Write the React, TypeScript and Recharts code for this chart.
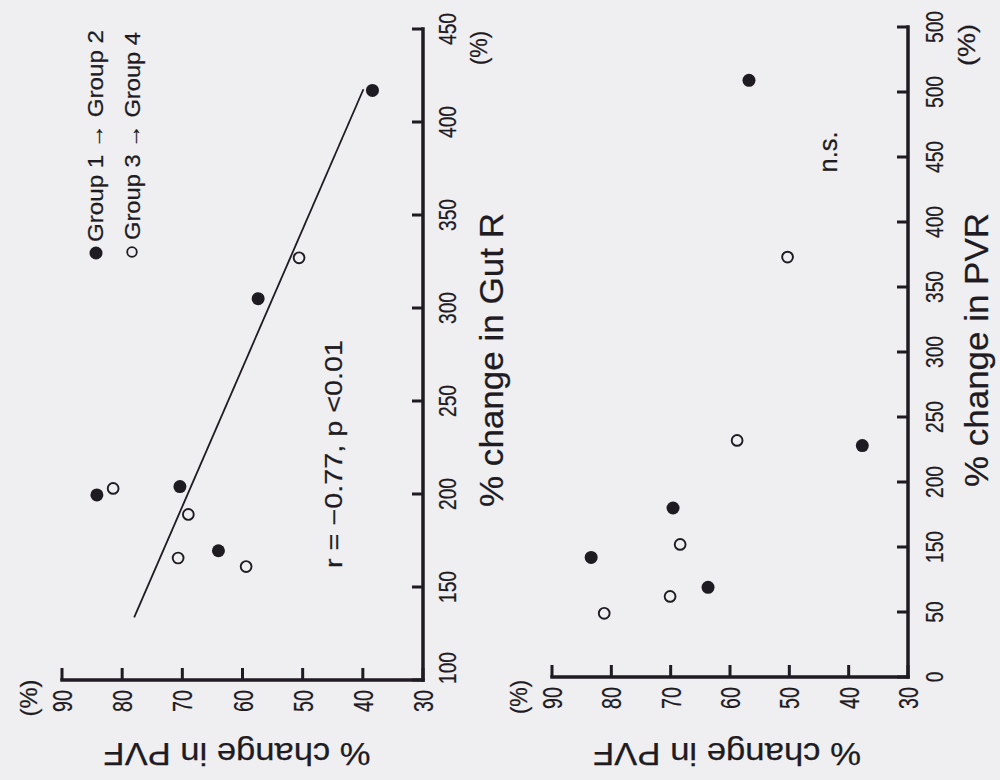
import React from 'react';
import { ScatterChart, Scatter, XAxis, YAxis, ReferenceLine } from 'recharts';

// ---------- data ----------
const pvfTicks = [30, 40, 50, 60, 70, 80, 90];
const gutRTicks = [100, 150, 200, 250, 300, 350, 400, 450];
const pvrTicks = [50, 100, 150, 200, 250, 300, 350, 400, 450, 500, 550];
const pvrTickLabels = ['0', '50', '150', '200', '250', '300', '350', '400', '450', '500', '500'];

// Panel 1: % change in PVF vs % change in Gut R
const g12PvfA = [38.4, 57.4, 84.2, 70.4, 64.0];
const g12GutR = [417, 305, 199.5, 204, 169.5];
const g34PvfA = [81.5, 69.0, 70.7, 59.4, 50.6];
const g34GutR = [203, 189, 165.6, 161, 327];
const regPvf = [78.0, 39.9];
const regGutR = [133.7, 417.6];

// Panel 2: % change in PVF vs % change in PVR
const g12PvfB = [56.8, 37.7, 69.6, 83.4, 63.7];
const g12Pvr = [509, 228, 180, 142, 119];
const g34PvfB = [58.8, 50.3, 68.4, 70.1, 81.2];
const g34Pvr = [232, 373, 152, 112, 99];

const zip = (xs: number[], ys: number[]) => xs.map((x, i) => ({ x, y: ys[i] }));
const g12A = zip(g12PvfA, g12GutR);
const g34A = zip(g34PvfA, g34GutR);
const g12B = zip(g12PvfB, g12Pvr);
const g34B = zip(g34PvfB, g34Pvr);

// ---------- style ----------
const INK = '#1e1b23';
const BG = '#efeef0';
const FONT = '"Liberation Sans", Arial, "DejaVu Sans", sans-serif';
const axisStyle = { stroke: INK, strokeWidth: 3.5, strokeLinecap: 'square' as const };

const filledDot = (p: any) => <circle cx={p.cx} cy={p.cy} r={6.5} fill={INK} />;
const openDot = (p: any) => (
  <circle cx={p.cx} cy={p.cy} r={5.4} fill="none" stroke={INK} strokeWidth={1.9} />
);

type VTProps = {
  x: number;
  y: number;
  angle: number;
  size: number;
  anchor?: 'start' | 'middle' | 'end';
  length?: number;
  sx?: number;
  children: React.ReactNode;
};
const VText = ({ x, y, angle, size, anchor = 'middle', length, sx = 1, children }: VTProps) => (
  <text
    transform={`translate(${x},${y}) rotate(${angle}) scale(${sx},1)`}
    textAnchor={anchor}
    fontSize={size}
    fontFamily={FONT}
    fill={INK}
    stroke={INK}
    strokeWidth={0.25}
    textLength={length}
    lengthAdjust={length ? 'spacingAndGlyphs' : undefined}
  >
    {children}
  </text>
);

const PvfTick = (props: any) => {
  const { x, y, payload } = props;
  const fs = 28;
  return (
    <g>
      <line x1={x} y1={y} x2={x} y2={y - 12} stroke={INK} strokeWidth={3} />
      <VText x={x + 0.36 * fs} y={y + 21} angle={-90} size={fs} sx={0.7}>
        {payload.value}
      </VText>
    </g>
  );
};

const makeRightTick = (labels: string[] | null, offset: number, firstShift: number) => (props: any) => {
  const { x, y, payload, index } = props;
  const fs = 24;
  const label = labels ? labels[index] : String(payload.value);
  const dy = index === 0 ? firstShift : 0;
  return (
    <g>
      <line x1={x} y1={y} x2={x - 11} y2={y} stroke={INK} strokeWidth={3} />
      <VText x={x + offset + 0.36 * fs} y={y + dy} angle={-90} size={fs} sx={0.8}>
        {label}
      </VText>
    </g>
  );
};

const GutTick = makeRightTick(null, 24, -12);
const PvrTick = makeRightTick(pvrTickLabels, 26, 0);

export default function App() {
  return (
    <div style={{ position: 'absolute', left: 0, top: 0, width: 1000, height: 780, background: BG, overflow: 'hidden' }}>
      <div style={{ position: 'absolute', left: 0, top: 0 }}>
        <ScatterChart width={530} height={780} margin={{ top: 29, right: 47, bottom: 40, left: 62 }}>
          <XAxis
            type="number"
            dataKey="x"
            domain={[30, 90]}
            reversed
            ticks={pvfTicks}
            interval={0}
            height={60}
            tickSize={0}
            tickMargin={0}
            tickLine={false}
            axisLine={axisStyle}
            tick={<PvfTick />}
          />
          <YAxis
            type="number"
            dataKey="y"
            orientation="right"
            domain={[100, 450]}
            ticks={gutRTicks}
            interval={0}
            width={60}
            tickSize={0}
            tickMargin={0}
            tickLine={false}
            axisLine={axisStyle}
            tick={<GutTick />}
          />
          <ReferenceLine
            segment={[
              { x: regPvf[0], y: regGutR[0] },
              { x: regPvf[1], y: regGutR[1] },
            ]}
            stroke={INK}
            strokeWidth={1.8}
            ifOverflow="visible"
          />
          <Scatter name="Group 1 → Group 2" data={g12A} shape={filledDot} isAnimationActive={false} />
          <Scatter name="Group 3 → Group 4" data={g34A} shape={openDot} isAnimationActive={false} />
          <g>
            <circle cx={96} cy={253} r={6.5} fill={INK} />
            <VText x={103} y={242} angle={-90} size={22} anchor="start" length={212}>
              Group 1 → Group 2
            </VText>
            <circle cx={132} cy={252} r={4.8} fill="none" stroke={INK} strokeWidth={1.8} />
            <VText x={140} y={240} angle={-90} size={22} anchor="start" length={208}>
              Group 3 → Group 4
            </VText>
            <VText x={342} y={454} angle={-90} size={23} length={228}>
              r = −0.77, p &lt;0.01
            </VText>
            <VText x={503} y={360} angle={-90} size={33} length={294}>
              % change in Gut R
            </VText>
            <VText x={487} y={48} angle={-90} size={24} length={34}>
              (%)
            </VText>
            <VText x={37} y={698} angle={-90} size={24} length={37}>
              (%)
            </VText>
            <VText x={237} y={743} angle={180} size={32} length={267}>
              % change in PVF
            </VText>
          </g>
        </ScatterChart>
      </div>
      <div style={{ position: 'absolute', left: 500, top: 0 }}>
        <ScatterChart width={500} height={780} margin={{ top: 27, right: 32, bottom: 43, left: 52 }}>
          <XAxis
            type="number"
            dataKey="x"
            domain={[30, 90]}
            reversed
            ticks={pvfTicks}
            interval={0}
            height={60}
            tickSize={0}
            tickMargin={0}
            tickLine={false}
            axisLine={axisStyle}
            tick={<PvfTick />}
          />
          <YAxis
            type="number"
            dataKey="y"
            orientation="right"
            domain={[50, 550]}
            ticks={pvrTicks}
            interval={0}
            width={60}
            tickSize={0}
            tickMargin={0}
            tickLine={false}
            axisLine={axisStyle}
            tick={<PvrTick />}
          />
          <Scatter name="Group 1 → Group 2" data={g12B} shape={filledDot} isAnimationActive={false} />
          <Scatter name="Group 3 → Group 4" data={g34B} shape={openDot} isAnimationActive={false} />
          <g>
            <VText x={337} y={152} angle={-90} size={25} length={41}>
              n.s.
            </VText>
            <VText x={488} y={350} angle={-90} size={33} length={274}>
              % change in PVR
            </VText>
            <VText x={475} y={45} angle={-90} size={24} length={42}>
              (%)
            </VText>
            <VText x={27} y={697} angle={-90} size={24} length={34}>
              (%)
            </VText>
            <VText x={227} y={743} angle={180} size={32} length={268}>
              % change in PVF
            </VText>
          </g>
        </ScatterChart>
      </div>
    </div>
  );
}
